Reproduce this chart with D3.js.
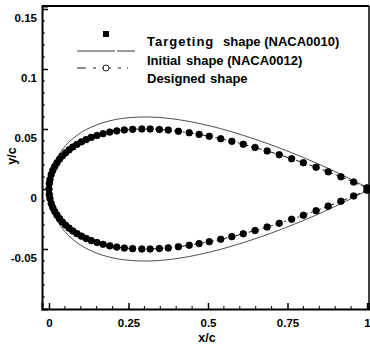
<!DOCTYPE html>
<html><head><meta charset="utf-8">
<script src="https://cdn.jsdelivr.net/npm/d3@7"></script>
<style>
html,body{margin:0;padding:0;background:#fff;}
svg{display:block;font-family:"Liberation Sans",Arial,sans-serif;font-weight:bold;}
</style></head>
<body><div id="chart"></div>
<script>
// Chordwise stations (x/c), trailing edge -> leading edge
const xStations = [1.0, 0.958, 0.918, 0.878, 0.84, 0.8, 0.763, 0.724, 0.686, 0.648, 0.611, 0.575, 0.54, 0.504, 0.472, 0.441, 0.407, 0.375, 0.347, 0.318, 0.292, 0.263, 0.237, 0.213, 0.191, 0.17, 0.151, 0.133, 0.117, 0.102, 0.088, 0.075, 0.063, 0.052, 0.042, 0.033, 0.025, 0.018, 0.012, 0.007, 0.003, 0.001, 0];
// Targeting shape (NACA0010) half-thickness y/c
const targetY = [0.001, 0.0058, 0.0102, 0.0143, 0.0181, 0.0219, 0.0252, 0.0286, 0.0317, 0.0346, 0.0373, 0.0397, 0.0419, 0.0439, 0.0455, 0.0469, 0.0481, 0.0491, 0.0496, 0.0500, 0.0500, 0.0497, 0.0492, 0.0484, 0.0474, 0.0461, 0.0446, 0.0430, 0.0412, 0.0393, 0.0372, 0.0350, 0.0326, 0.0301, 0.0275, 0.0247, 0.0218, 0.0187, 0.0155, 0.0120, 0.0079, 0.0046, 0];
// Initial shape (NACA0012) half-thickness y/c
const initialY = [0.0013, 0.0070, 0.0122, 0.0172, 0.0217, 0.0262, 0.0302, 0.0343, 0.0380, 0.0415, 0.0447, 0.0476, 0.0503, 0.0527, 0.0546, 0.0563, 0.0578, 0.0589, 0.0596, 0.0600, 0.0600, 0.0597, 0.0590, 0.0581, 0.0568, 0.0553, 0.0536, 0.0516, 0.0495, 0.0472, 0.0447, 0.0420, 0.0392, 0.0361, 0.0330, 0.0296, 0.0262, 0.0225, 0.0186, 0.0144, 0.0095, 0.0056, 0];
// Designed shape half-thickness y/c
const designedY = [0.001, 0.0058, 0.0102, 0.0143, 0.0181, 0.0219, 0.0252, 0.0286, 0.0317, 0.0346, 0.0373, 0.0397, 0.0419, 0.0439, 0.0455, 0.0469, 0.0481, 0.0491, 0.0496, 0.0500, 0.0500, 0.0497, 0.0492, 0.0484, 0.0474, 0.0461, 0.0446, 0.0430, 0.0412, 0.0393, 0.0372, 0.0350, 0.0326, 0.0301, 0.0275, 0.0247, 0.0218, 0.0187, 0.0155, 0.0120, 0.0079, 0.0046, 0];

const xTicks = [0, 0.25, 0.5, 0.75, 1];
const xTickLabels = ["0", "0.25", "0.5", "0.75", "1"];
const yTicks = [-0.05, 0, 0.05, 0.1, 0.15];
const yTickLabels = ["-0.05", "0", "0.05", "0.1", "0.15"];
const legendLabels = [["Targeting", "shape (NACA0010)"], ["Initial", "shape (NACA0012)"], ["Designed", "shape"]];

const W = 370, H = 345;
const svg = d3.select("#chart").append("svg").attr("width", W).attr("height", H);

const x = d3.scaleLinear().domain([-0.022, 1.0063]).range([42, 369]);
const y = d3.scaleLinear().domain([-0.1, 0.1525]).range([309, 6]);

// outline: upper TE->LE then lower LE->TE
function outline(ys) {
  const up = xStations.map((xs, i) => [xs, ys[i]]);
  const lo = xStations.slice().reverse().map((xs, i) => [xs, -ys[xStations.length - 1 - i]]).slice(1);
  return up.concat(lo);
}
const line = d3.line().x(d => x(d[0])).y(d => y(d[1])).curve(d3.curveCatmullRom);

const plot = svg.append("g");
// Initial shape
plot.append("path").attr("d", line(outline(initialY)))
  .attr("fill", "none").attr("stroke", "#222").attr("stroke-width", 0.8);
// Designed shape
const dPts = outline(designedY);
plot.append("path").attr("d", line(dPts))
  .attr("fill", "none").attr("stroke", "#000").attr("stroke-width", 0.9).attr("stroke-dasharray", "6,3,2,3");
plot.selectAll("circle.des").data(dPts).enter().append("circle")
  .attr("cx", d => x(d[0])).attr("cy", d => y(d[1])).attr("r", 3.3)
  .attr("fill", "#000").attr("stroke", "#000").attr("stroke-width", 0.8);
// Target points
const tPts = outline(targetY);
plot.selectAll("rect.tgt").data(tPts).enter().append("rect")
  .attr("x", d => x(d[0]) - 2.6).attr("y", d => y(d[1]) - 2.6)
  .attr("width", 5.2).attr("height", 5.2).attr("fill", "#000");

// Frame
svg.append("line").attr("x1", 42).attr("x2", 369).attr("y1", 6).attr("y2", 6).attr("stroke", "#000").attr("stroke-width", 2);
svg.append("line").attr("x1", 369).attr("x2", 369).attr("y1", 6).attr("y2", 309).attr("stroke", "#000").attr("stroke-width", 1.5);

// X axis
const xAxis = d3.axisBottom(x).tickValues(xTicks).tickFormat((d, i) => xTickLabels[i]).tickSize(-6).tickPadding(10);
const gx = svg.append("g").attr("transform", "translate(0,309)").call(xAxis);
gx.select(".domain").attr("stroke-width", 2);
gx.selectAll(".tick line").attr("stroke-width", 1.5);
gx.selectAll("text").attr("font-size", 11.5).attr("font-weight", "bold").attr("font-family", "Liberation Sans, Arial, sans-serif");
const xMinor = d3.range(0, 21).map(i => i * 0.05).filter(v => !xTicks.some(t => Math.abs(t - v) < 1e-6));
svg.append("g").selectAll("line").data(xMinor).enter().append("line")
  .attr("x1", d => x(d)).attr("x2", d => x(d)).attr("y1", 309).attr("y2", 306).attr("stroke", "#000").attr("stroke-width", 1);

// Y axis
const yAxis = d3.axisLeft(y).tickValues(yTicks).tickFormat((d, i) => yTickLabels[i]).tickSize(-6).tickPadding(5);
const gy = svg.append("g").attr("transform", "translate(42,0)").call(yAxis);
gy.select(".domain").attr("stroke-width", 2);
gy.selectAll(".tick line").attr("stroke-width", 1.5);
gy.selectAll("text").attr("font-size", 11.5).attr("font-weight", "bold").attr("font-family", "Liberation Sans, Arial, sans-serif").attr("dy", "1.08em");
const yMinor = d3.range(-10, 16).map(i => i * 0.01).filter(v => !yTicks.some(t => Math.abs(t - v) < 1e-6));
svg.append("g").selectAll("line").data(yMinor).enter().append("line")
  .attr("x1", 42).attr("x2", 45).attr("y1", d => y(d)).attr("y2", d => y(d)).attr("stroke", "#000").attr("stroke-width", 1);

// Axis titles
svg.append("text").attr("x", 207).attr("y", 342).attr("text-anchor", "middle").attr("font-size", 12.5).text("x/c");
svg.append("text").attr("transform", "translate(16,156) rotate(-90)").attr("text-anchor", "middle").attr("font-size", 12.5).text("y/c");

// Legend
const lg = svg.append("g");
lg.append("rect").attr("x", 103).attr("y", 31).attr("width", 6).attr("height", 6).attr("fill", "#000");
lg.append("line").attr("x1", 77).attr("x2", 135).attr("y1", 51).attr("y2", 51).attr("stroke", "#222").attr("stroke-width", 0.9).attr("stroke-dasharray", "38,2,18");
lg.append("line").attr("x1", 77).attr("x2", 128).attr("y1", 68).attr("y2", 68).attr("stroke", "#000").attr("stroke-width", 0.9).attr("stroke-dasharray", "9,7,3,6");
lg.append("circle").attr("cx", 106).attr("cy", 68).attr("r", 3).attr("fill", "#fff").attr("stroke", "#000").attr("stroke-width", 0.9);
const ly = [46, 65, 83];
const secondX = [223, 186, 210];
const firstSpacing = [1, 0, 0];
const lt = lg.selectAll("text").data(legendLabels).enter().append("text")
  .attr("y", (d, i) => ly[i]).attr("font-size", 13);
lt.append("tspan").attr("x", 147).attr("letter-spacing", (d, i) => firstSpacing[i]).text(d => d[0]);
lt.append("tspan").attr("x", (d, i) => secondX[i]).attr("letter-spacing", 0).text(d => d[1]);
</script></body></html>
